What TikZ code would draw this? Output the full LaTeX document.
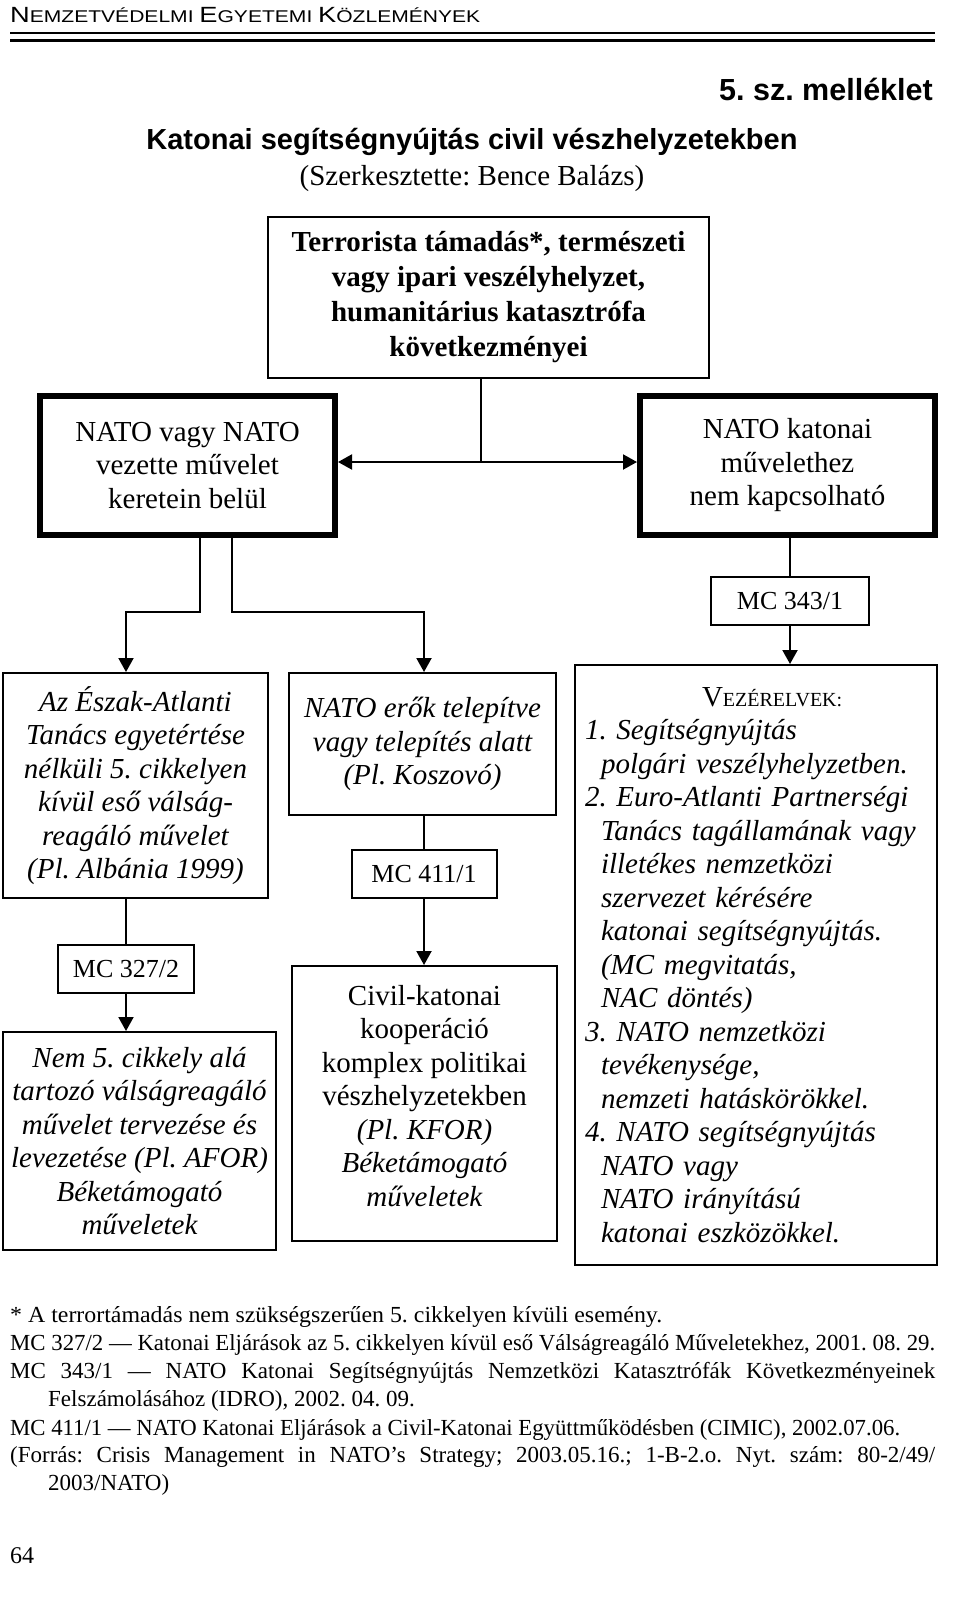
\documentclass[tikz,border=0pt]{standalone}
\usepackage{fontspec}
\setmainfont{Liberation Serif}
\newfontfamily\arialf{Liberation Sans}
\usetikzlibrary{arrows.meta}
\begin{document}
\frenchspacing
\begin{tikzpicture}[x=1pt,y=-1pt,
  bx/.style={draw,line width=2pt,inner sep=0pt,align=center,font=\fontsize{29}{33.5}\selectfont},
  thk/.style={bx,line width=6pt},
  mcbox/.style={bx,minimum height=48,font=\fontsize{26}{30}\selectfont},
  con/.style={line width=2pt},
  tip/.tip={Triangle[width=15pt,length=14pt]},
  arr/.style={con,-tip},
  foot/.style={anchor=base west,inner sep=0pt,font=\fontsize{23}{28}\selectfont}]
\useasboundingbox (0,0) rectangle (960,1598);
% header
\node[anchor=base west,inner sep=0pt,font=\arialf] (hdr) at (10,23) {\resizebox{470pt}{\height}{\fontsize{22}{22}\selectfont N\fontsize{17}{17}\selectfont EMZETVÉDELMI \fontsize{22}{22}\selectfont E\fontsize{17}{17}\selectfont GYETEMI \fontsize{22}{22}\selectfont K\fontsize{17}{17}\selectfont ÖZLEMÉNYEK}};
\draw[line width=1.2pt] (10,33) -- (935,33);
\draw[line width=2.5pt] (10,40.5) -- (935,40.5);
\node[anchor=base east,inner sep=0pt,font=\arialf\bfseries\fontsize{30.5}{30}\selectfont] (mell) at (933,100) {5. sz. melléklet};
\node[inner sep=0pt,font=\arialf\bfseries\fontsize{29}{29}\selectfont] (title) at (472,142) {Katonai segítségnyújtás civil vészhelyzetekben};
\node[inner sep=0pt,font=\fontsize{29}{29}\selectfont] (sub) at (472,179) {(Szerkesztette: Bence Balázs)};
% boxes
\node[bx,minimum width=441,minimum height=161,font=\bfseries\fontsize{29}{35}\selectfont] (top) at (488.5,297.5) {Terrorista támadás*, természeti\\vagy ipari veszélyhelyzet,\\humanitárius katasztrófa\\következményei};
\node[thk,minimum width=295,minimum height=139] (nl) at (187.5,465.5) {NATO vagy NATO\\vezette művelet\\keretein belül};
\node[thk,minimum width=295,minimum height=139] (nr) at (787.5,465.5) {NATO katonai\\művelethez\\nem kapcsolható};
\node[mcbox,minimum width=158] (mc343) at (790,601) {MC 343/1};
\node[bx,minimum width=265,minimum height=225,font=\itshape\fontsize{29}{33.5}\selectfont] (A) at (135.5,785.5) {Az Észak-Atlanti\\Tanács egyetértése\\nélküli 5. cikkelyen\\kívül eső válság-\\reagáló művelet\\(Pl. Albánia 1999)};
\node[bx,minimum width=267,minimum height=142,font=\itshape\fontsize{29}{33.5}\selectfont] (B) at (422.5,744) {NATO erők telepítve\\vagy telepítés alatt\\(Pl. Koszovó)};
\node[mcbox,minimum width=145] (mc411) at (424,874) {MC 411/1};
\node[mcbox,minimum width=136] (mc327) at (126,969) {MC 327/2};
\node[bx,minimum width=265,minimum height=275] (C) at (424.5,1103.5) {};
\node[inner sep=0pt,align=center,font=\fontsize{29}{33.5}\selectfont] (Ct) at (424.5,1096) {Civil-katonai\\kooperáció\\komplex politikai\\vészhelyzetekben\\\textit{(Pl. KFOR)}\\\textit{Béketámogató}\\\textit{műveletek}};
\node[bx,minimum width=273,minimum height=218,font=\itshape\fontsize{29}{33.5}\selectfont] (D) at (139.5,1141) {Nem 5. cikkely alá\\tartozó válságreagáló\\művelet tervezése és\\levezetése (Pl. AFOR)\\Béketámogató\\műveletek};
\node[bx,minimum width=362,minimum height=600,text width=342pt,align=left,font=\itshape\fontsize{29}{33.5}\selectfont] (E) at (756,965) {\hspace*{117pt}{\upshape V{\fontsize{20}{33.5}\selectfont EZÉRELVEK:}}\\
1. Segítségnyújtás\\
\hspace*{16pt}polgári veszélyhelyzetben.\\
2. Euro-Atlanti Partnerségi\\
\hspace*{16pt}Tanács tagállamának vagy\\
\hspace*{16pt}illetékes nemzetközi\\
\hspace*{16pt}szervezet kérésére\\
\hspace*{16pt}katonai segítségnyújtás.\\
\hspace*{16pt}(MC megvitatás,\\
\hspace*{16pt}NAC döntés)\\
3. NATO nemzetközi\\
\hspace*{16pt}tevékenysége,\\
\hspace*{16pt}nemzeti hatáskörökkel.\\
4. NATO segítségnyújtás\\
\hspace*{16pt}NATO vagy\\
\hspace*{16pt}NATO irányítású\\
\hspace*{16pt}katonai eszközökkel.};
% connectors
\coordinate (j) at (481,462);
\draw[con] (top.south -| j) -- (j);
\draw[con,tip-tip] (nl.east |- j) -- (nr.west |- j);
\draw[con] (nr.south -| mc343) -- (mc343.north);
\draw[arr] (mc343.south) -- (E.north -| mc343);
\coordinate (bl) at (200,612);
\coordinate (br) at (232,612);
\draw[arr] (nl.south -| bl) -- (bl) -| (mc327 |- A.north);
\draw[arr] (nl.south -| br) -- (br) -| (mc411 |- B.north);
\draw[con] (A.south -| mc327) -- (mc327.north);
\draw[arr] (mc327.south) -- (D.north -| mc327);
\draw[con] (B.south -| mc411) -- (mc411.north);
\draw[arr] (mc411.south) -- (C.north -| mc411);
% footnotes
\node[foot] (f1) at (10,1322) {\resizebox{652pt}{\height}{* A terrortámadás nem szükségszerűen 5. cikkelyen kívüli esemény.}};
\node[foot] (f2) at (10,1350) {\resizebox{925pt}{\height}{MC 327/2 — Katonai Eljárások az 5. cikkelyen kívül eső Válságreagáló Műveletekhez, 2001. 08. 29.}};
\node[foot] (f3) at (10,1378) {\makebox[925pt][s]{MC 343/1 — NATO Katonai Segítségnyújtás Nemzetközi Katasztrófák Következményeinek}};
\node[foot] (f4) at (48,1406) {Felszámolásához (IDRO), 2002. 04. 09.};
\node[foot] (f5) at (10,1435) {\resizebox{890pt}{\height}{MC 411/1 — NATO Katonai Eljárások a Civil-Katonai Együttműködésben (CIMIC), 2002.07.06.}};
\node[foot] (f6) at (10,1462) {\makebox[925pt][s]{(Forrás: Crisis Management in NATO’s Strategy; 2003.05.16.; 1-B-2.o. Nyt. szám: 80-2/49/}};
\node[foot] (f7) at (48,1490) {2003/NATO)};
\node[foot,font=\fontsize{24}{24}\selectfont] (pg) at (10,1563) {64};
\end{tikzpicture}
\end{document}
